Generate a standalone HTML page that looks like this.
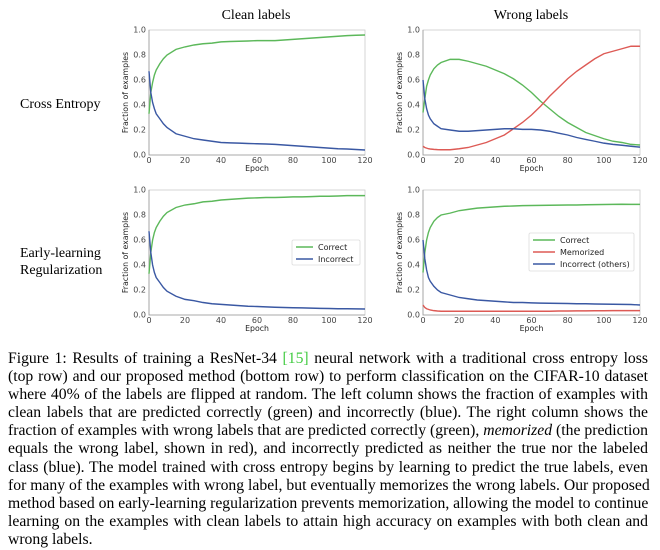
<!DOCTYPE html>
<html><head><meta charset="utf-8"><style>
html,body{margin:0;padding:0;background:#fff;width:660px;height:550px;overflow:hidden}
svg{position:absolute;left:0;top:0}
#cap{position:absolute;left:8px;top:350px;width:640px;font-family:"Liberation Serif",serif;font-size:15.7px;line-height:18.1px;color:#000}
#cap div{text-align:justify;text-align-last:justify;white-space:nowrap}
#cap div.last{text-align-last:left}
.rl{font-family:"Liberation Serif",serif;font-size:14px;fill:#000}
.tk{font-family:"DejaVu Sans",sans-serif;font-size:8px;fill:#444}
.al{font-family:"DejaVu Sans",sans-serif;font-size:7.8px;fill:#222}
.lg{font-family:"DejaVu Sans",sans-serif;font-size:8px;fill:#222}
</style></head><body>
<svg id="fig" width="660" height="350">
<text class="rl" x="256" y="19" text-anchor="middle">Clean labels</text>
<text class="rl" x="531" y="19" text-anchor="middle">Wrong labels</text>
<text class="rl" x="20" y="108">Cross Entropy</text>
<text class="rl" x="20" y="257">Early-learning</text>
<text class="rl" x="20" y="274">Regularization</text>
</svg>
<div id="cap">
<div>Figure 1: Results of training a ResNet-34 <span style="color:#4c4">[15]</span> neural network with a traditional cross entropy loss</div>
<div>(top row) and our proposed method (bottom row) to perform classification on the CIFAR-10 dataset</div>
<div>where 40% of the labels are flipped at random. The left column shows the fraction of examples with</div>
<div>clean labels that are predicted correctly (green) and incorrectly (blue). The right column shows the</div>
<div>fraction of examples with wrong labels that are predicted correctly (green), <i>memorized</i> (the prediction</div>
<div>equals the wrong label, shown in red), and incorrectly predicted as neither the true nor the labeled</div>
<div>class (blue). The model trained with cross entropy begins by learning to predict the true labels, even</div>
<div>for many of the examples with wrong label, but eventually memorizes the wrong labels. Our proposed</div>
<div>method based on early-learning regularization prevents memorization, allowing the model to continue</div>
<div>learning on the examples with clean labels to attain high accuracy on examples with both clean and</div>
<div class="last">wrong labels.</div>
</div>
<script>
const epochs=[0,1,2,3,4,6,8,10,15,20,25,30,35,40,45,50,55,60,65,70,75,80,85,90,95,100,105,110,115,120];
const xTicks=[0,20,40,60,80,100,120];
const yTicks=[0.0,0.2,0.4,0.6,0.8,1.0];
const tlCorrect=[0.33,0.5,0.58,0.64,0.68,0.73,0.77,0.80,0.845,0.865,0.88,0.89,0.895,0.905,0.908,0.91,0.912,0.915,0.915,0.915,0.92,0.925,0.93,0.935,0.94,0.945,0.95,0.955,0.958,0.96];
const tlIncorrect=[0.67,0.5,0.42,0.37,0.33,0.29,0.25,0.22,0.17,0.15,0.13,0.12,0.11,0.1,0.097,0.095,0.092,0.09,0.088,0.085,0.08,0.075,0.07,0.065,0.06,0.055,0.05,0.048,0.044,0.04];
const trCorrect=[0.34,0.45,0.55,0.6,0.64,0.69,0.72,0.74,0.765,0.765,0.75,0.73,0.71,0.68,0.65,0.61,0.56,0.5,0.43,0.37,0.31,0.26,0.22,0.18,0.155,0.13,0.11,0.1,0.085,0.08];
const trMemorized=[0.07,0.06,0.055,0.05,0.048,0.045,0.043,0.042,0.042,0.05,0.06,0.08,0.1,0.13,0.16,0.21,0.26,0.32,0.39,0.47,0.54,0.61,0.67,0.72,0.77,0.81,0.83,0.85,0.87,0.87];
const trIncorrect=[0.6,0.45,0.37,0.32,0.29,0.25,0.23,0.21,0.2,0.19,0.19,0.195,0.2,0.205,0.21,0.21,0.205,0.205,0.2,0.19,0.175,0.16,0.14,0.125,0.11,0.095,0.085,0.078,0.07,0.063];
const blCorrect=[0.33,0.5,0.6,0.66,0.7,0.75,0.79,0.82,0.86,0.88,0.89,0.905,0.91,0.92,0.925,0.93,0.935,0.937,0.94,0.94,0.942,0.945,0.945,0.947,0.95,0.95,0.952,0.955,0.955,0.955];
const blIncorrect=[0.67,0.5,0.4,0.34,0.3,0.26,0.22,0.19,0.15,0.125,0.115,0.1,0.09,0.085,0.08,0.075,0.07,0.068,0.065,0.062,0.06,0.058,0.057,0.055,0.053,0.052,0.05,0.05,0.049,0.048];
const brCorrect=[0.34,0.5,0.6,0.66,0.7,0.75,0.78,0.8,0.815,0.835,0.845,0.855,0.86,0.865,0.87,0.872,0.875,0.876,0.877,0.878,0.879,0.88,0.88,0.882,0.883,0.884,0.885,0.886,0.885,0.885];
const brMemorized=[0.08,0.06,0.05,0.045,0.04,0.035,0.032,0.03,0.03,0.03,0.03,0.03,0.03,0.03,0.03,0.03,0.03,0.03,0.03,0.03,0.032,0.032,0.033,0.033,0.034,0.034,0.035,0.035,0.035,0.035];
const brIncorrect=[0.6,0.45,0.36,0.3,0.27,0.23,0.2,0.18,0.16,0.14,0.13,0.12,0.115,0.11,0.105,0.1,0.1,0.097,0.095,0.094,0.093,0.092,0.09,0.09,0.088,0.087,0.086,0.085,0.084,0.08];

const G='#5cb85a',R='#dd5a55',B='#3a58a3';
const NS='http://www.w3.org/2000/svg';
const svg=document.getElementById('fig');
function mk(tag,attrs,parent){const e=document.createElementNS(NS,tag);for(const k in attrs)e.setAttribute(k,attrs[k]);(parent||svg).appendChild(e);return e;}

function panel(name,x0,x1,y0,y1,series,legend){
  const g=mk('g',{});
  
  
  const sx=v=>x0+(v-0)/120*(x1-x0);
  const sy=v=>y1-v*(y1-y0);
  const fr=mk('rect',{x:x0,y:y0,width:x1-x0,height:y1-y0,fill:'none',stroke:'#ccc','stroke-width':0.8},g);
  
  
  const ax=mk('path',{d:`M${x0},${y0}V${y1}H${x1}`,fill:'none',stroke:'#999','stroke-width':0.8},g);
  
  
  xTicks.forEach(t=>{const e=mk('text',{class:'tk',x:sx(t),y:y1+8,'text-anchor':'middle'},g);e.textContent=t;
    
    });
  yTicks.forEach(t=>{const e=mk('text',{class:'tk',x:x0-3,y:sy(t)+2.5,'text-anchor':'end'},g);e.textContent=t.toFixed(1);
    
    });
  const xl=mk('text',{class:'al',x:(x0+x1)/2,y:y1+16,'text-anchor':'middle'},g);xl.textContent='Epoch';
  
  
  const yc=(y0+y1)/2, yx=x0-21;
  const yl=mk('text',{class:'al',x:yx,y:yc,'text-anchor':'middle',transform:`rotate(-90 ${yx} ${yc})`},g);yl.textContent='Fraction of examples';
  
  
  series.forEach(s=>{
    const d=s.vals.map((v,i)=>(i?'L':'M')+sx(epochs[i]).toFixed(2)+','+sy(v).toFixed(2)).join('');
    const p=mk('path',{d:d,fill:'none',stroke:s.c,'stroke-width':1.4},g);
    
    
  });
  if(legend){
    const lg=mk('g',{},g);
    
    
    mk('rect',{x:legend.x,y:legend.y,width:legend.w,height:legend.h,fill:'#fff',stroke:'#ddd','stroke-width':0.8,rx:1.5},lg);
    legend.items.forEach((it,i)=>{
      const yy=legend.y+7+i*12;
      mk('line',{x1:legend.x+4,x2:legend.x+4+legend.l,y1:yy,y2:yy,stroke:it.c,'stroke-width':1.4},lg);
      const t=mk('text',{class:'lg',x:legend.x+9+legend.l,y:yy+3},lg);t.textContent=it.t;
      
      
    });
  }
}
panel('clean-cross-entropy-chart',149,365,30,155,[{vals:tlCorrect,c:G,n:'correct-line'},{vals:tlIncorrect,c:B,n:'incorrect-line'}]);
panel('wrong-cross-entropy-chart',423,640,30,155,[{vals:trCorrect,c:G,n:'correct-line'},{vals:trMemorized,c:R,n:'memorized-line'},{vals:trIncorrect,c:B,n:'incorrect-others-line'}]);
panel('clean-elr-chart',149,365,190,315,[{vals:blCorrect,c:G,n:'correct-line'},{vals:blIncorrect,c:B,n:'incorrect-line'}],
  {x:292,y:240,w:68,h:25,l:17,items:[{t:'Correct',c:G},{t:'Incorrect',c:B}]});
panel('wrong-elr-chart',423,640,190,315,[{vals:brCorrect,c:G,n:'correct-line'},{vals:brMemorized,c:R,n:'memorized-line'},{vals:brIncorrect,c:B,n:'incorrect-others-line'}],
  {x:529,y:233,w:105,h:38,l:22,items:[{t:'Correct',c:G},{t:'Memorized',c:R},{t:'Incorrect (others)',c:B}]});
</script>
</body></html>
